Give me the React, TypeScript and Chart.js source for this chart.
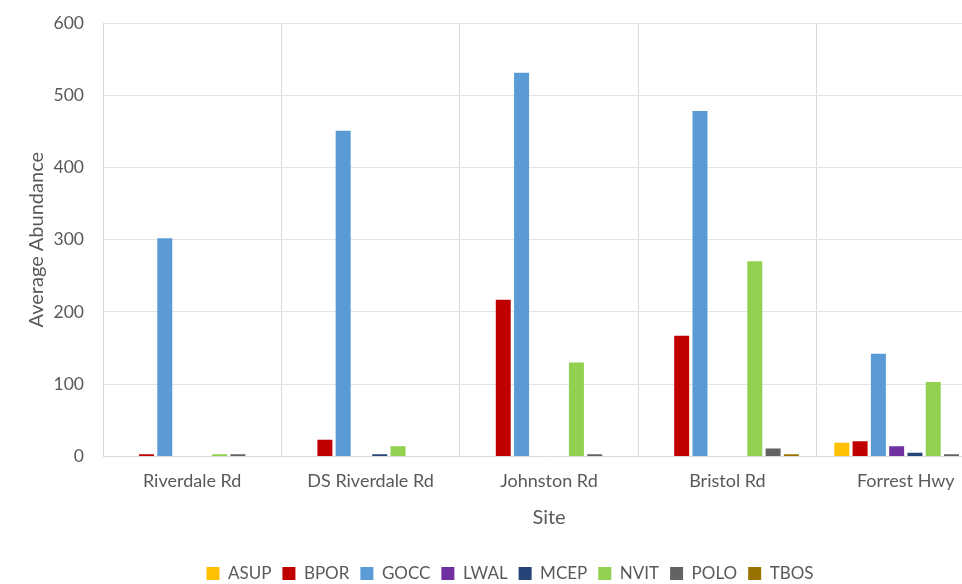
import React, { useEffect, useRef } from "react";
import { Chart, registerables } from "chart.js";

Chart.register(...registerables);

const sites = ["Riverdale Rd", "DS Riverdale Rd", "Johnston Rd", "Bristol Rd", "Forrest Hwy"];
const ASUP = [0, 0, 0, 0, 19];
const BPOR = [3, 23, 217, 167, 21];
const GOCC = [302, 451, 531, 478, 142];
const LWAL = [0, 0, 0, 0, 14];
const MCEP = [0, 3, 0, 0, 5];
const NVIT = [3, 14, 130, 270, 103];
const POLO = [3, 0, 3, 11, 3];
const TBOS = [0, 0, 0, 3, 19];

const seriesNames = ["ASUP", "BPOR", "GOCC", "LWAL", "MCEP", "NVIT", "POLO", "TBOS"];
const seriesValues = [ASUP, BPOR, GOCC, LWAL, MCEP, NVIT, POLO, TBOS];
const seriesColors = ["#FFC000", "#C00000", "#5B9BD5", "#7030A0", "#264478", "#92D050", "#636363", "#997300"];

const FONT = "Lato, 'Open Sans', sans-serif";
const TEXT = "#595959";

export default function App() {
  const ref = useRef<HTMLCanvasElement | null>(null);
  useEffect(() => {
    document.body.style.margin = "0";
    document.body.style.overflow = "hidden";
    const chart = new Chart(ref.current!, {
      type: "bar",
      data: {
        labels: sites,
        datasets: seriesNames.map((n, i) => ({
          label: n,
          data: seriesValues[i],
          backgroundColor: seriesColors[i],
          borderWidth: 0,
          categoryPercentage: 0.82,
          barPercentage: 0.82,
        })),
      },
      options: {
        animation: false,
        responsive: false,
        maintainAspectRatio: false,
        layout: { padding: { left: 25, right: 21, top: 23, bottom: -8 } },
        plugins: {
          legend: {
            position: "bottom",
            labels: {
              boxWidth: 13,
              boxHeight: 13,
              padding: 11,
              color: TEXT,
              font: { family: FONT, size: 17 },
            },
          },
          tooltip: { enabled: false },
        },
        scales: {
          x: {
            grid: { color: "#D9D9D9", drawTicks: false, offset: true },
            border: { color: "#D9D9D9" },
            ticks: { color: TEXT, font: { family: FONT, size: 18 }, padding: 14 },
            title: {
              display: true,
              text: "Site",
              color: TEXT,
              font: { family: FONT, size: 20 },
              padding: { top: 0, bottom: 24 },
            },
          },
          y: {
            min: 0,
            max: 600,
            afterFit: (scale: any) => {
              scale.width = 78;
            },
            ticks: { stepSize: 100, color: TEXT, font: { family: FONT, size: 17.5 }, padding: 1 },
            grid: {
              display: true,
              color: "#E3E3E3",
              drawTicks: true,
              tickLength: 18,
              tickColor: "rgba(0,0,0,0)",
            },
            border: { display: true, color: "#D9D9D9" },
            title: {
              display: true,
              text: "Average Abundance",
              color: TEXT,
              font: { family: FONT, size: 20 },
              padding: { top: 0, bottom: 6 },
            },
          },
        },
      },
    });
    return () => chart.destroy();
  }, []);
  return (
    <div style={{ position: "fixed", left: 0, top: 0, width: 962, height: 584, overflow: "hidden", background: "#fff" }}>
      <canvas ref={ref} width={1016} height={584} style={{ display: "block", width: 1016, height: 584 }} />
    </div>
  );
}
